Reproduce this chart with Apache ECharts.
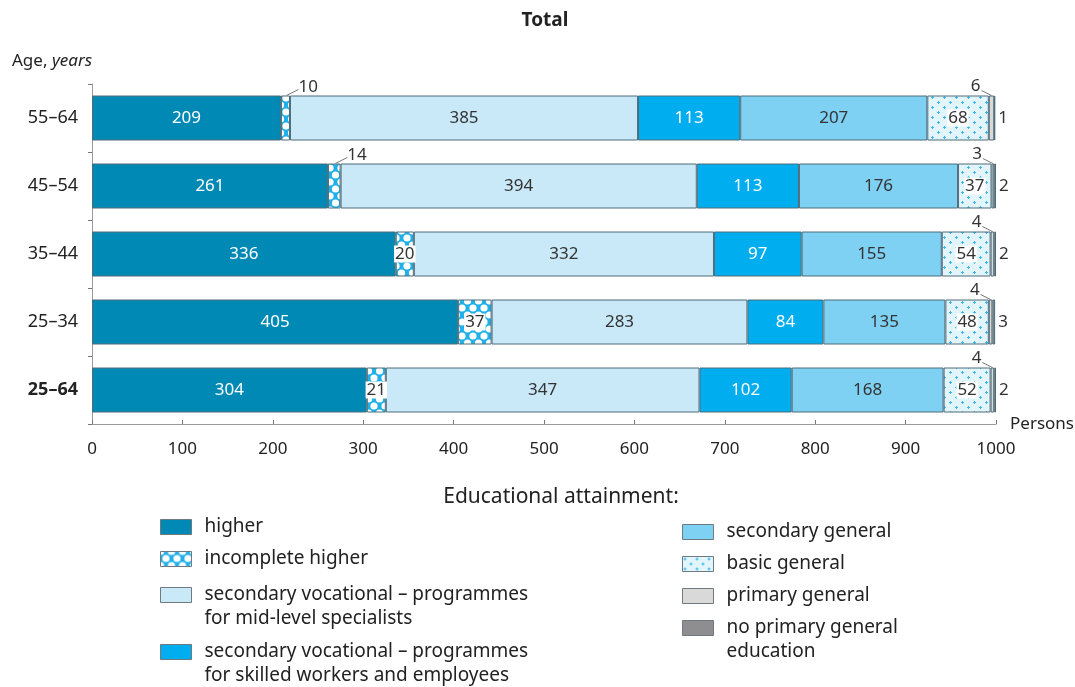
<!DOCTYPE html>
<html>
<head>
<meta charset="utf-8">
<script src="https://cdn.jsdelivr.net/npm/echarts@6/dist/echarts.min.js"></script>
<style>
  html, body { margin: 0; padding: 0; background: #fff; }
  #chart { width: 1075px; height: 687px; }
</style>
</head>
<body>
<div id="chart"></div>
<script>
// Age groups (top to bottom) and persons per 1000 by educational attainment
const ageGroups = ['55–64', '45–54', '35–44', '25–34', '25–64'];
const higher = [209, 261, 336, 405, 304];
const incompleteHigher = [10, 14, 20, 37, 21];
const vocationalMidLevel = [385, 394, 332, 283, 347];
const vocationalSkilled = [113, 113, 97, 84, 102];
const secondaryGeneral = [207, 176, 155, 135, 168];
const basicGeneral = [68, 37, 54, 48, 52];
const primaryGeneral = [6, 3, 4, 4, 4];
const noPrimary = [1, 2, 2, 3, 2];
const xMin = 0, xMax = 1000, xStep = 100;

const FONT = '"Noto Sans", "Open Sans", sans-serif';
const BAR_W = 45;

// Fill patterns
function crossPattern() {
  const c = document.createElement('canvas');
  c.width = 11; c.height = 14;
  const g = c.getContext('2d');
  g.fillStyle = '#1fb0ea';
  g.fillRect(0, 0, 11, 14);
  g.fillStyle = '#ffffff';
  [[0, 0], [11, 0], [0, 14], [11, 14], [5.5, 7]].forEach(([x, y]) => {
    g.beginPath(); g.arc(x, y, 3.6, 0, Math.PI * 2); g.fill();
  });
  return c;
}
function dotPattern() {
  const c = document.createElement('canvas');
  c.width = 12; c.height = 10;
  const g = c.getContext('2d');
  g.fillStyle = '#e2f4fc';
  g.fillRect(0, 0, 12, 10);
  g.fillStyle = '#3db8ec';
  [[2, 2], [8, 7]].forEach(([x, y]) => {
    g.fillRect(x - 1, y, 3, 1);
    g.fillRect(x, y - 1, 1, 3);
  });
  return c;
}

const seriesDefs = [
  { name: 'higher', data: higher, color: '#0089b4', text: '#ffffff' },
  { name: 'incomplete higher', data: incompleteHigher, color: { image: crossPattern(), repeat: 'repeat' }, text: '#333', box: true },
  { name: 'secondary vocational – programmes for mid-level specialists', data: vocationalMidLevel, color: '#c9e9f8', text: '#333' },
  { name: 'secondary vocational – programmes for skilled workers and employees', data: vocationalSkilled, color: '#00adee', text: '#ffffff' },
  { name: 'secondary general', data: secondaryGeneral, color: '#7fd1f4', text: '#333' },
  { name: 'basic general', data: basicGeneral, color: { image: dotPattern(), repeat: 'repeat' }, text: '#333', box: true },
  { name: 'primary general', data: primaryGeneral, color: '#d9d9d9', text: '#333' },
  { name: 'no primary general education', data: noPrimary, color: '#8e8e90', text: '#333' }
];

const legendText = {
  'secondary vocational – programmes for mid-level specialists': '\nsecondary vocational – programmes\nfor mid-level specialists',
  'secondary vocational – programmes for skilled workers and employees': '\nsecondary vocational – programmes\nfor skilled workers and employees',
  'no primary general education': '\nno primary general\neducation'
};

function barLabel(def, k) {
  if (k === 6) return { show: false };
  if (k === 7) {
    return { show: true, position: 'right', distance: 3, color: '#333', fontSize: 17, fontFamily: FONT };
  }
  return {
    show: true, position: 'inside', color: def.text, fontSize: 17, fontFamily: FONT,
    backgroundColor: def.box ? '#ffffff' : 'transparent',
    padding: def.box ? [0, 1, 0, 1] : 0
  };
}

const barSeries = seriesDefs.map((def, k) => ({
  name: def.name,
  type: 'bar',
  stack: 'total',
  barWidth: BAR_W,
  itemStyle: { color: def.color, borderColor: '#4f6c79', borderWidth: 1 },
  label: barLabel(def, k),
  emphasis: { disabled: true },
  data: def.data.map((v, i) => {
    // narrow incomplete-higher segments get a callout instead of an inside label
    if (k === 1 && v < 15) return { value: v, label: { show: false } };
    return v;
  })
}));

function segment(k, i) {
  let s = 0;
  for (let j = 0; j < k; j++) s += seriesDefs[j].data[i];
  return [s, s + seriesDefs[k].data[i]];
}

// Callouts with leader lines for very narrow segments
const calloutSeries = {
  type: 'custom',
  silent: true,
  clip: false,
  z: 10,
  encode: { x: 0, y: 1 },
  data: ageGroups.map((_, i) => [0, i]),
  renderItem(params, api) {
    const i = api.value(1);
    const cy = api.coord([0, i])[1];
    const top = cy - BAR_W / 2;
    const kids = [];
    const textStyle = (text, x, y, align) => ({
      type: 'text',
      style: { text: String(text), x, y, align, verticalAlign: 'middle', font: '17px ' + FONT, fill: '#333' }
    });
    if (incompleteHigher[i] < 15) {
      const [a, b] = segment(1, i);
      const xm = (api.coord([a, i])[0] + api.coord([b, i])[0]) / 2;
      kids.push({ type: 'line', shape: { x1: xm + 1, y1: top, x2: xm + 13, y2: top - 6 }, style: { stroke: '#777', lineWidth: 1 } });
      kids.push(textStyle(incompleteHigher[i], xm + 13, top - 8, 'left'));
    }
    const [p0, p1] = segment(6, i);
    const pm = (api.coord([p0, i])[0] + api.coord([p1, i])[0]) / 2;
    kids.push({ type: 'line', shape: { x1: pm, y1: top, x2: pm - 10, y2: top - 5 }, style: { stroke: '#777', lineWidth: 1 } });
    kids.push(textStyle(primaryGeneral[i], pm - 11, top - 9, 'right'));
    return { type: 'group', children: kids };
  }
};

function legendAt(name, left, centerY) {
  const multi = !!legendText[name];
  return {
    data: [name],
    left: left,
    top: multi ? centerY - 36 : centerY - 12,
    orient: 'vertical',
    padding: 0,
    icon: 'rect',
    itemWidth: 31,
    itemHeight: 15,
    selectedMode: false,
    itemStyle: { borderColor: '#6f7a80', borderWidth: 1 },
    formatter: n => legendText[n] || n,
    textStyle: { fontSize: 19, fontFamily: FONT, color: '#222', lineHeight: 24, padding: [0, 0, 0, 8] }
  };
}

const chart = echarts.init(document.getElementById('chart'), null, { renderer: 'canvas' });
chart.setOption({
  animation: false,
  backgroundColor: '#ffffff',
  title: [
    { text: 'Total', left: 540, textAlign: 'center', top: 6,
      textStyle: { fontSize: 19, fontWeight: 'bold', fontFamily: FONT, color: '#222' } },
    { text: '{a|Age, }{b|years}', left: 7, top: 48,
      textStyle: { fontWeight: 'normal', rich: {
        a: { fontSize: 17, fontFamily: FONT, color: '#222', fontWeight: 'normal' },
        b: { fontSize: 17, fontFamily: FONT, color: '#222', fontWeight: 'normal', fontStyle: 'italic' } } } },
    { text: 'Educational attainment:', left: 556, textAlign: 'center', top: 482,
      textStyle: { fontSize: 21, fontWeight: 'normal', fontFamily: FONT, color: '#222' } }
  ],
  legend: [
    legendAt(seriesDefs[0].name, 160, 527),
    legendAt(seriesDefs[1].name, 160, 559),
    legendAt(seriesDefs[2].name, 160, 595),
    legendAt(seriesDefs[3].name, 160, 652),
    legendAt(seriesDefs[4].name, 682, 532),
    legendAt(seriesDefs[5].name, 682, 564),
    legendAt(seriesDefs[6].name, 682, 596),
    legendAt(seriesDefs[7].name, 682, 628)
  ],
  grid: { left: 92, right: 77, top: 84, bottom: 263, containLabel: false },
  xAxis: {
    type: 'value',
    min: xMin, max: xMax, interval: xStep,
    name: 'Persons',
    nameLocation: 'end',
    nameGap: 14,
    nameTextStyle: { fontSize: 17, fontFamily: FONT, color: '#222', align: 'left', verticalAlign: 'middle' },
    axisLine: { show: true, lineStyle: { color: '#9a9a9a', width: 1 } },
    axisTick: { show: true, inside: true, length: 4, lineStyle: { color: '#777' } },
    axisLabel: { fontSize: 17, fontFamily: FONT, color: '#222', margin: 17, formatter: v => String(v) },
    splitLine: { show: false }
  },
  yAxis: {
    type: 'category',
    inverse: true,
    data: ageGroups,
    axisLine: { show: true, lineStyle: { color: '#9a9a9a', width: 1 } },
    axisTick: { show: true, length: 4, lineStyle: { color: '#777' } },
    axisLabel: {
      fontSize: 18, fontFamily: FONT, color: '#222', margin: 14,
      formatter: (v, idx) => idx === ageGroups.length - 1 ? '{b|' + v + '}' : v,
      rich: { b: { fontSize: 18, fontFamily: FONT, color: '#222', fontWeight: 'bold' } }
    }
  },
  series: [...barSeries, calloutSeries]
});
</script>
</body>
</html>
